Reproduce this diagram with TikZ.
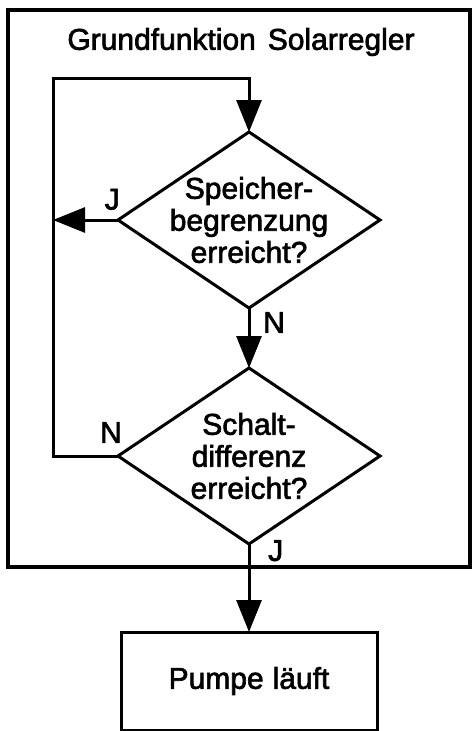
\documentclass[tikz,border=0pt]{standalone}
\usepackage{fontspec}
\setmainfont[FakeBold=2.2]{Liberation Sans}
\usetikzlibrary{arrows.meta,positioning,shapes.geometric}
\tikzset{>={Triangle[length=32pt,width=25pt]},
  flowline/.style={line width=3pt,draw=black,line join=miter},
  flowarrow/.style={flowline,->},
  decision/.style={diamond,draw,line width=3pt,minimum width=262pt,minimum height=176pt,inner sep=0pt,outer sep=0pt},
  actionbox/.style={rectangle,draw,line width=3pt,minimum width=256pt,minimum height=98pt,outer sep=0pt},
  question/.style={align=center,inner sep=0pt,font=\fontsize{30}{32}\selectfont},
  answer/.style={inner sep=0pt,font=\fontsize{30}{32}\selectfont}
}

\begin{document}
\begin{tikzpicture}[x=1pt,y=-1pt,node distance=60pt]
  \useasboundingbox (0,0) rectangle (472,731);
  % Controller frame and title
  \node (frame) [draw, line width=4pt, minimum width=462pt, minimum height=557pt, outer sep=0pt] at (239,288.5) {};
  \node (title) [answer] at (241,42) {Grundfunktion\hspace{0.4em}Solarregler};
  % Decisions
  \node (spb) [decision] at (249,220) {};
  \node (spbq) [question] at (249,220) {Speicher-\\begrenzung\\erreicht?};
  \node (sdiff) [decision, below=of spb] {};
  \node (sdiffq) [question] at (sdiff) {Schalt-\\differenz\\erreicht?};
  % Pump
  \node (pumpe) [actionbox, below=88pt of sdiff] {};
  \node (pumpeq) [answer] at (pumpe) {Pumpe\hspace{0.3em}läuft};
  \coordinate (loopcorner) at (53,78);
  % Answers
  \node (spbj) [answer, above left=10pt and -2pt of spb.west] {J};
  \node (spbn) [answer, below right=4pt and 14pt of spb.south] {N};
  \node (sdiffn) [answer, above left=13pt and -4pt of sdiff.west] {N};
  \node (sdiffj) [answer, below right=-4pt and 19pt of sdiff.south] {J};
  % Edges
  \draw[flowarrow] (sdiff.west) -| (loopcorner) -| (spb.north);
  \draw[flowarrow] (spb.west) -- (spb.west -| loopcorner);
  \draw[flowarrow] (spb.south) -- (sdiff.north);
  \draw[flowarrow] (sdiff.south) -- (pumpe.north);
\end{tikzpicture}
\end{document}
